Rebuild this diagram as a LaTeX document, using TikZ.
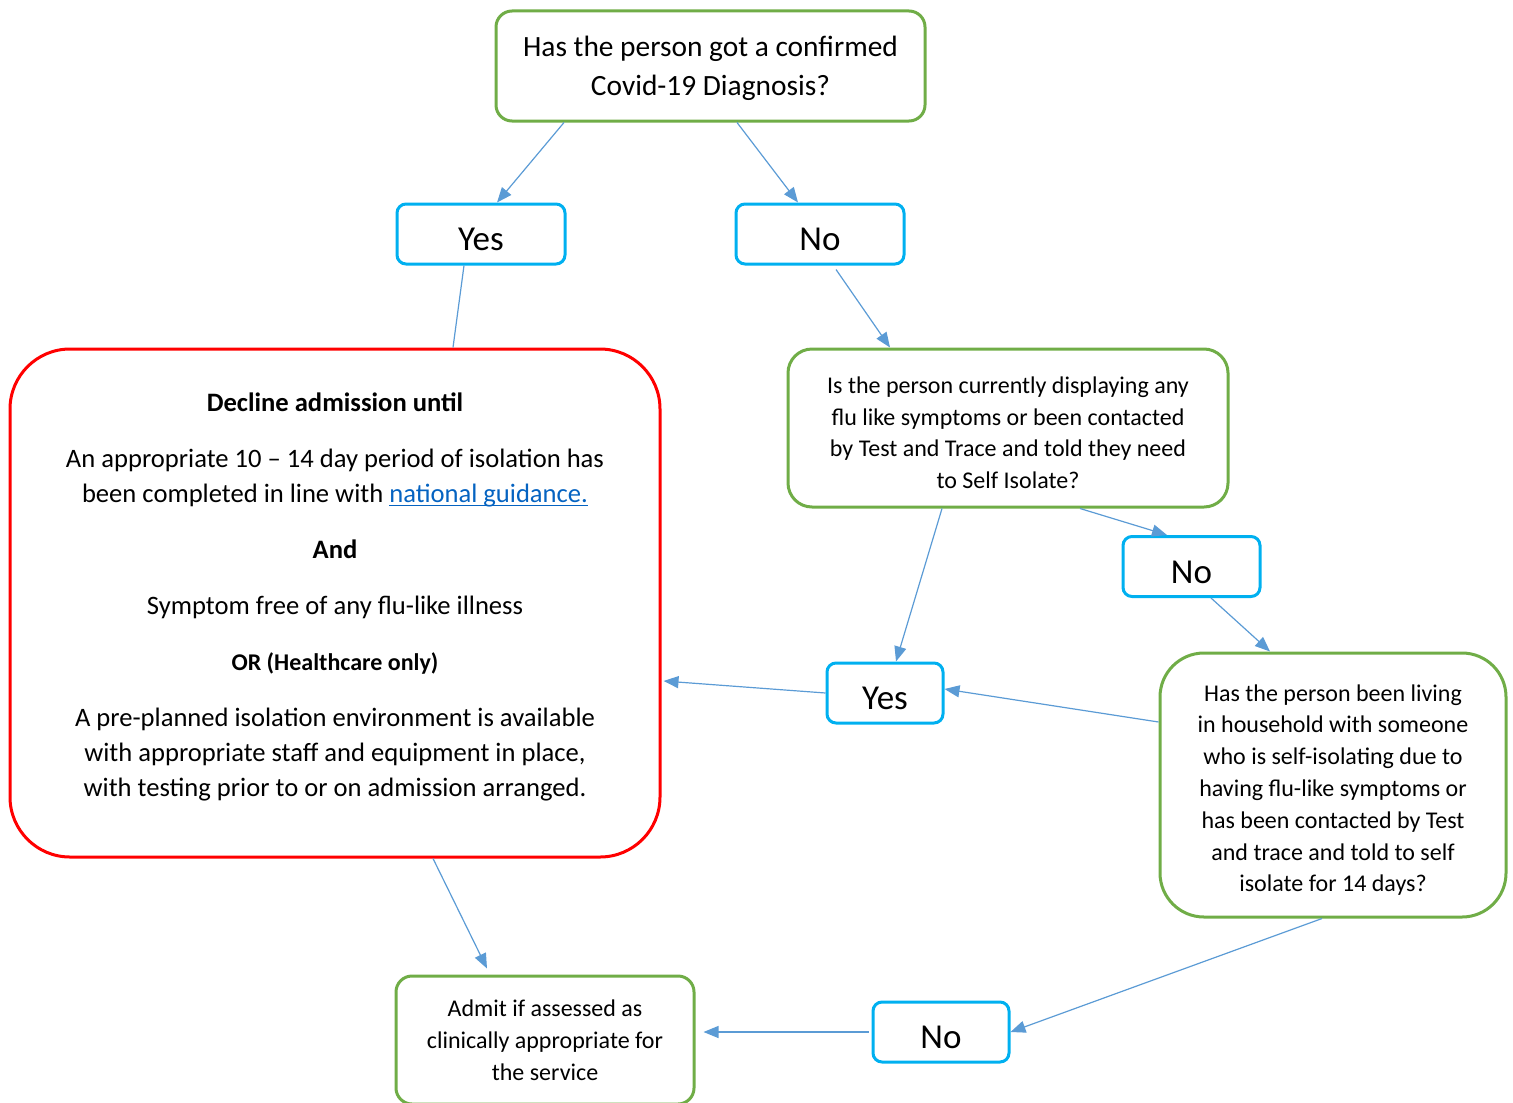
\documentclass[tikz,border=0pt]{standalone}
\usepackage{fontspec}
\setmainfont{Carlito}
\usetikzlibrary{arrows.meta, calc}
\definecolor{Leaf}{HTML}{70AD47}
\definecolor{Sky}{HTML}{00B0F0}
\definecolor{Steel}{HTML}{5B9BD5}
\definecolor{Alert}{HTML}{FF0000}
\definecolor{Link}{HTML}{0563C1}

\begin{document}
\begin{tikzpicture}[x=0.5pt, y=-0.5pt,
    question/.style={draw=Leaf, line width=1.5pt, align=center, inner sep=0pt},
    answer/.style={draw=Sky, line width=1.5pt, rounded corners=4.5pt, minimum height=30pt, inner sep=0pt, text height=16.5pt, text depth=0pt, font=\fontsize{17.5}{20}\selectfont},
    small/.style={font=\fontsize{12}{15.9}\selectfont},
    arr/.style={-{Triangle[length=7.5pt, width=6pt]}, line width=0.6pt, color=Steel},
    plain/.style={line width=0.6pt, color=Steel}
]
\clip (0,0) rectangle (1513,1102);

% Questions
\node[question, rounded corners=8pt, minimum width=214.5pt, minimum height=55pt, font=\fontsize{14.7}{19.5}\selectfont] (diag) at (710.5,66) {\rule{0pt}{13pt}Has the person got a confirmed\\Covid-19 Diagnosis?};
\node[question, small, rounded corners=12pt, minimum width=220pt, minimum height=79pt] (symp) at (1008,428) {\rule{0pt}{13pt}Is the person currently displaying any\\flu like symptoms or been contacted\\by Test and Trace and told they need\\to Self Isolate?};
\node[question, small, rounded corners=22pt, minimum width=173pt, minimum height=132pt] (house) at (1333,785) {\rule{0pt}{13.5pt}Has the person been living\\in household with someone\\who is self-isolating due to\\having flu-like symptoms or\\has been contacted by Test\\and trace and told to self\\isolate for 14 days?};

% Outcomes
\node[draw=Alert, line width=1.5pt, rounded corners=30pt, minimum width=325pt, minimum height=254pt, align=center, inner sep=0pt, font=\fontsize{13.3}{17.5}\selectfont] (decline) at (335,603) {\textbf{Decline admission until}\\[10.5pt]
An appropriate 10 – 14 day period of isolation has\\been completed in line with \textcolor{Link}{\underline{\smash{national guidance.}}}\\[10.5pt]
\textbf{And}\\[10.5pt]
Symptom free of any flu-like illness\\[10.5pt]
{\fontsize{12}{17.5}\selectfont\textbf{OR (Healthcare only)}}\\[10.5pt]
A pre-planned isolation environment is available\\with appropriate staff and equipment in place,\\with testing prior to or on admission arranged.\rule[-8pt]{0pt}{8pt}};
\node[question, small, rounded corners=8pt, minimum width=149pt, minimum height=64pt] (admit) at (545,1040) {Admit if assessed as\\clinically appropriate for\\the service};

% Answers
\node[answer, minimum width=84pt] (yes1) at (481,234) {Yes};
\node[answer, minimum width=84pt] (no1) at (820,234) {No};
\node[answer, minimum width=68.5pt] (no2) at (1191.5,566.5) {No};
\node[answer, minimum width=58pt] (yes2) at (885,693) {Yes};
\node[answer, minimum width=68pt] (no3) at (941,1032) {No};

% Connectors
\draw[arr] ([xshift=-73.25pt]diag.south) -- ([xshift=8pt]yes1.north);
\draw[arr] ([xshift=13.25pt]diag.south) -- ([xshift=-11pt]no1.north);
\draw[plain] ([xshift=-8.5pt]yes1.south) -- ([xshift=59pt]decline.north);
\draw[arr] ([xshift=8pt, yshift=-2pt]no1.south) -- ([xshift=-59pt]symp.north);
\draw[arr] ([xshift=-33pt]symp.south) -- ([xshift=5.5pt]yes2.north);
\draw[arr] ([xshift=36pt]symp.south) -- ([xshift=-12.25pt]no2.north);
\draw[arr] ([xshift=9.75pt]no2.south) -- ([xshift=-31.5pt]house.north);
\draw[arr] ([yshift=31.5pt]house.west) -- ([yshift=2pt]yes2.east);
\draw[arr] (yes2.west) -- ([xshift=1pt, yshift=-39pt]decline.east);
\draw[arr] ([xshift=49pt]decline.south) -- ([xshift=-29pt, yshift=3pt]admit.north);
\draw[arr] ([xshift=-5.5pt]house.south) -- (no3.east);
\draw[arr] ([xshift=-1.5pt]no3.west) -- ([xshift=4pt]no3.west -| admit.east);

\end{tikzpicture}
\end{document}
